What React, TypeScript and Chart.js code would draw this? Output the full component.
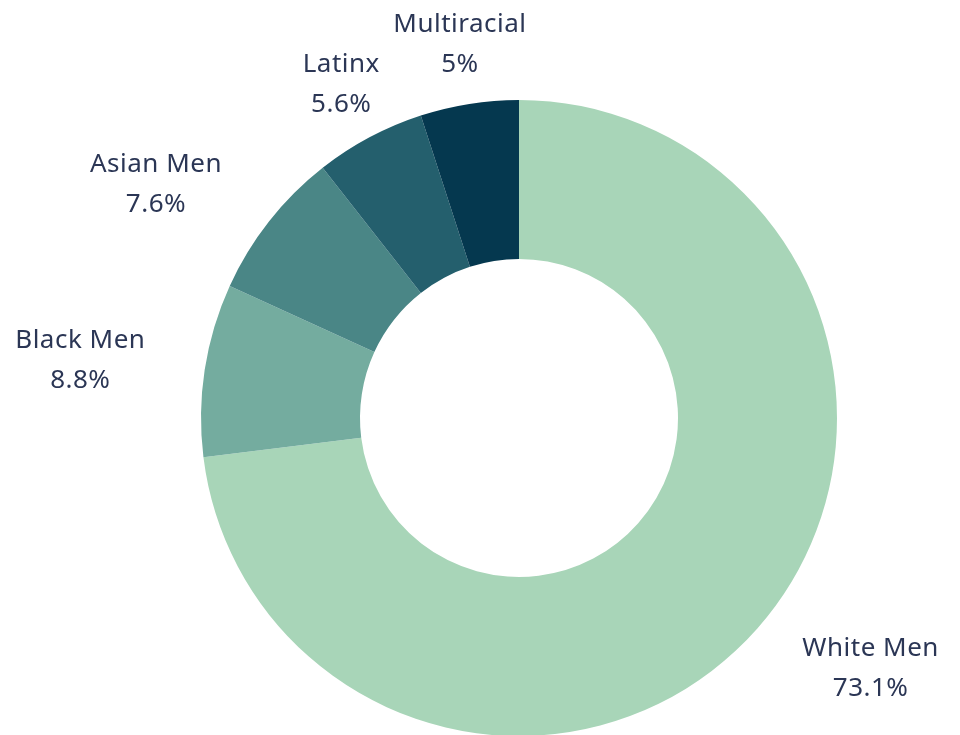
import React, { useEffect, useRef } from "react";
import { Chart, registerables } from "chart.js";

Chart.register(...registerables);

const categories = ["White Men", "Black Men", "Asian Men", "Latinx", "Multiracial"];
const shares = [73.1, 8.8, 7.6, 5.6, 5];
const valueLabels = ["73.1%", "8.8%", "7.6%", "5.6%", "5%"];
const sliceColors = ["#a8d5b8", "#74ac9f", "#4a8686", "#245f6d", "#05384f"];

const FONT = "26px 'Noto Sans', 'Open Sans', sans-serif";
const TEXT_COLOR = "#2b3655";

const labelPlugin = {
  id: "outerLabels",
  afterDatasetsDraw(chart: any) {
    const ctx = chart.ctx;
    const meta = chart.getDatasetMeta(0);
    ctx.save();
    ctx.font = FONT;
    try {
      (ctx as any).letterSpacing = "0.5px";
    } catch (e) {}
    ctx.fillStyle = TEXT_COLOR;
    ctx.textBaseline = "middle";
    ctx.textAlign = "center";
    const lineGap = 40;
    meta.data.forEach((arc: any, i: number) => {
      const { x, y, startAngle, endAngle, outerRadius } = arc.getProps(
        ["x", "y", "startAngle", "endAngle", "outerRadius"],
        true
      );
      const mid = (startAngle + endAngle) / 2;
      const dx = Math.cos(mid);
      const dy = Math.sin(mid);
      const dist = outerRadius + 60;
      const ax = x + dx * dist;
      const ay = y + dy * dist;
      const lines = [categories[i], valueLabels[i]];
      const w = Math.max(...lines.map((l) => ctx.measureText(l).width));
      let cx = ax;
      if (Math.abs(dx) > 0.6) cx = ax + Math.sign(dx) * w / 2;
      lines.forEach((l, k) => {
        ctx.fillText(l, cx, ay + (k - 0.5) * lineGap);
      });
    });
    ctx.restore();
  },
};

export default function App() {
  const ref = useRef<HTMLCanvasElement | null>(null);
  useEffect(() => {
    document.body.style.margin = "0";
    if (!ref.current) return;
    const chart = new Chart(ref.current, {
      type: "doughnut",
      data: {
        labels: categories,
        datasets: [
          {
            data: shares,
            backgroundColor: sliceColors,
            borderWidth: 0,
          },
        ],
      },
      options: {
        responsive: false,
        animation: false,
        cutout: "50%",
        layout: { padding: { top: 100, bottom: 4, left: 201, right: 123 } },
        plugins: {
          legend: { display: false },
          tooltip: { enabled: false },
        },
      },
      plugins: [labelPlugin],
    });
    return () => chart.destroy();
  }, []);
  return (
    <div style={{ position: "absolute", left: 0, top: 0, width: 960, height: 735, overflow: "hidden", background: "#fff" }}>
      <canvas ref={ref} width={960} height={740} />
    </div>
  );
}
